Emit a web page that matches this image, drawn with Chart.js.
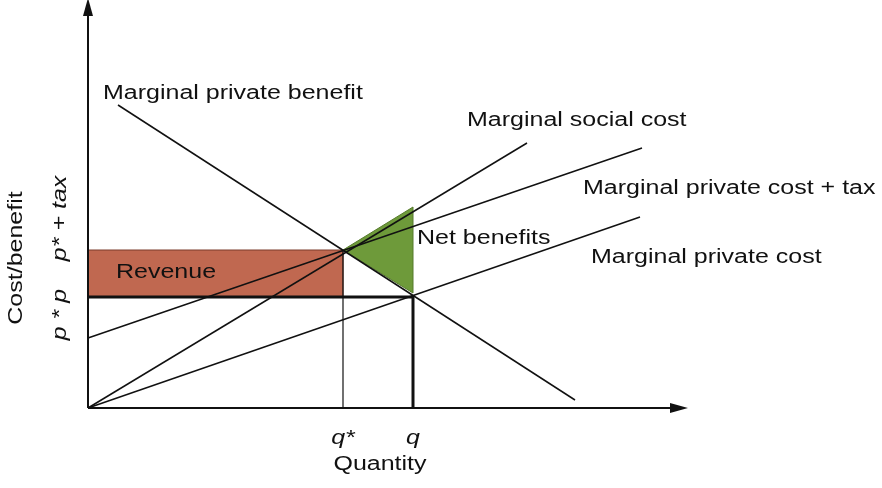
<!DOCTYPE html>
<html><head><meta charset="utf-8">
<script src="https://cdn.jsdelivr.net/npm/chart.js@4/dist/chart.umd.min.js"></script>
<style>html,body{margin:0;background:#fff}#c{display:block}</style>
</head><body>
<div style="width:882px;height:488px"><canvas id="c"></canvas></div>
<script>
// Values in diagram units (origin = axes origin)
const mpb = [{x:30,y:303},{x:487,y:8}];
const msc = [{x:0,y:0},{x:439,y:265}];
const mpcTax = [{x:0,y:70},{x:554,y:260}];
const mpc = [{x:0,y:0},{x:552,y:191}];
const revenue = [{x:0,y:111},{x:255,y:111},{x:255,y:158},{x:0,y:158}];
const netBenefit = [{x:255,y:158},{x:325,y:201},{x:325,y:115}];
const qStar = 255, qVal = 325, pStar = 111, pTax = 158, pComp = 113;
const labels = [
  {t:'Marginal private benefit',x:15,y:309},
  {t:'Marginal social cost',x:379,y:282},
  {t:'Marginal private cost + tax',x:495,y:214},
  {t:'Net benefits',x:329,y:164},
  {t:'Marginal private cost',x:503,y:145},
  {t:'Revenue',x:28,y:130}
];
const line = (d,w=1.5)=>({data:d,borderColor:'#111',borderWidth:w,pointRadius:0,fill:false,showLine:true,tension:0});
const polys = [{pts:revenue,fill:'#c06850',stroke:'#7a3a2a'},{pts:netBenefit,fill:'#6e9a3a',stroke:'#557a2a'}];
new Chart(document.getElementById('c'),{
  type:'scatter',
  data:{datasets:[
    line(mpb),line(msc),line(mpcTax),line(mpc),
    line([{x:qStar,y:0},{x:qStar,y:pTax}],1.2),
    line([{x:qVal,y:0},{x:qVal,y:pComp}],3),
    line([{x:0,y:pStar},{x:qVal,y:pStar}],3),
    line([{x:0,y:0},{x:590,y:0}],2),
    line([{x:0,y:0},{x:0,y:400}],2)
  ]},
  options:{animation:false,responsive:true,maintainAspectRatio:false,
    layout:{padding:0},
    plugins:{legend:{display:false},tooltip:{enabled:false}},
    scales:{x:{display:false,min:-88,max:794},y:{display:false,min:-80,max:408}}},
  plugins:[{id:'txt',
  beforeDatasetsDraw(ch){
    const c=ch.ctx,X=ch.scales.x,Y=ch.scales.y;
    c.save();
    polys.forEach(p=>{c.beginPath();p.pts.forEach((q,i)=>{const a=X.getPixelForValue(q.x),b=Y.getPixelForValue(q.y);i?c.lineTo(a,b):c.moveTo(a,b);});
      c.closePath();c.fillStyle=p.fill;c.fill();c.strokeStyle=p.stroke;c.lineWidth=1;c.stroke();});
    c.restore();
  },
  afterDraw(ch){
    const c=ch.ctx,X=ch.scales.x,Y=ch.scales.y,px=v=>X.getPixelForValue(v),py=v=>Y.getPixelForValue(v);
    const F='20px "Liberation Sans", Arial, sans-serif',FI='italic 20px "Liberation Sans", Arial, sans-serif';
    const txt=(t,x,y,font,align)=>{c.save();c.font=font;c.textAlign=align||'left';c.translate(x,y);c.scale(1.25,1);c.fillText(t,0,0);c.restore();};
    c.save();c.fillStyle='#111';
    c.beginPath();c.moveTo(px(600),py(0));c.lineTo(px(582),py(5));c.lineTo(px(582),py(-5));c.fill();
    c.beginPath();c.moveTo(px(0),py(410));c.lineTo(px(-5),py(392));c.lineTo(px(5),py(392));c.fill();
    labels.forEach(l=>txt(l.t,px(l.x),py(l.y),F));
    txt('q*',px(qStar),py(-36),FI,'center');txt('q',px(qVal),py(-36),FI,'center');
    txt('Quantity',px(292),py(-62),F,'center');
    c.save();c.translate(px(-66),py(150));c.rotate(-Math.PI/2);txt('Cost/benefit',0,0,F,'center');c.restore();
    c.save();c.translate(px(-22),py(150));c.rotate(-Math.PI/2);txt('p * p    p* + tax',0,0,FI,'center');c.restore();
    c.restore();
  }}]
});
</script></body></html>
